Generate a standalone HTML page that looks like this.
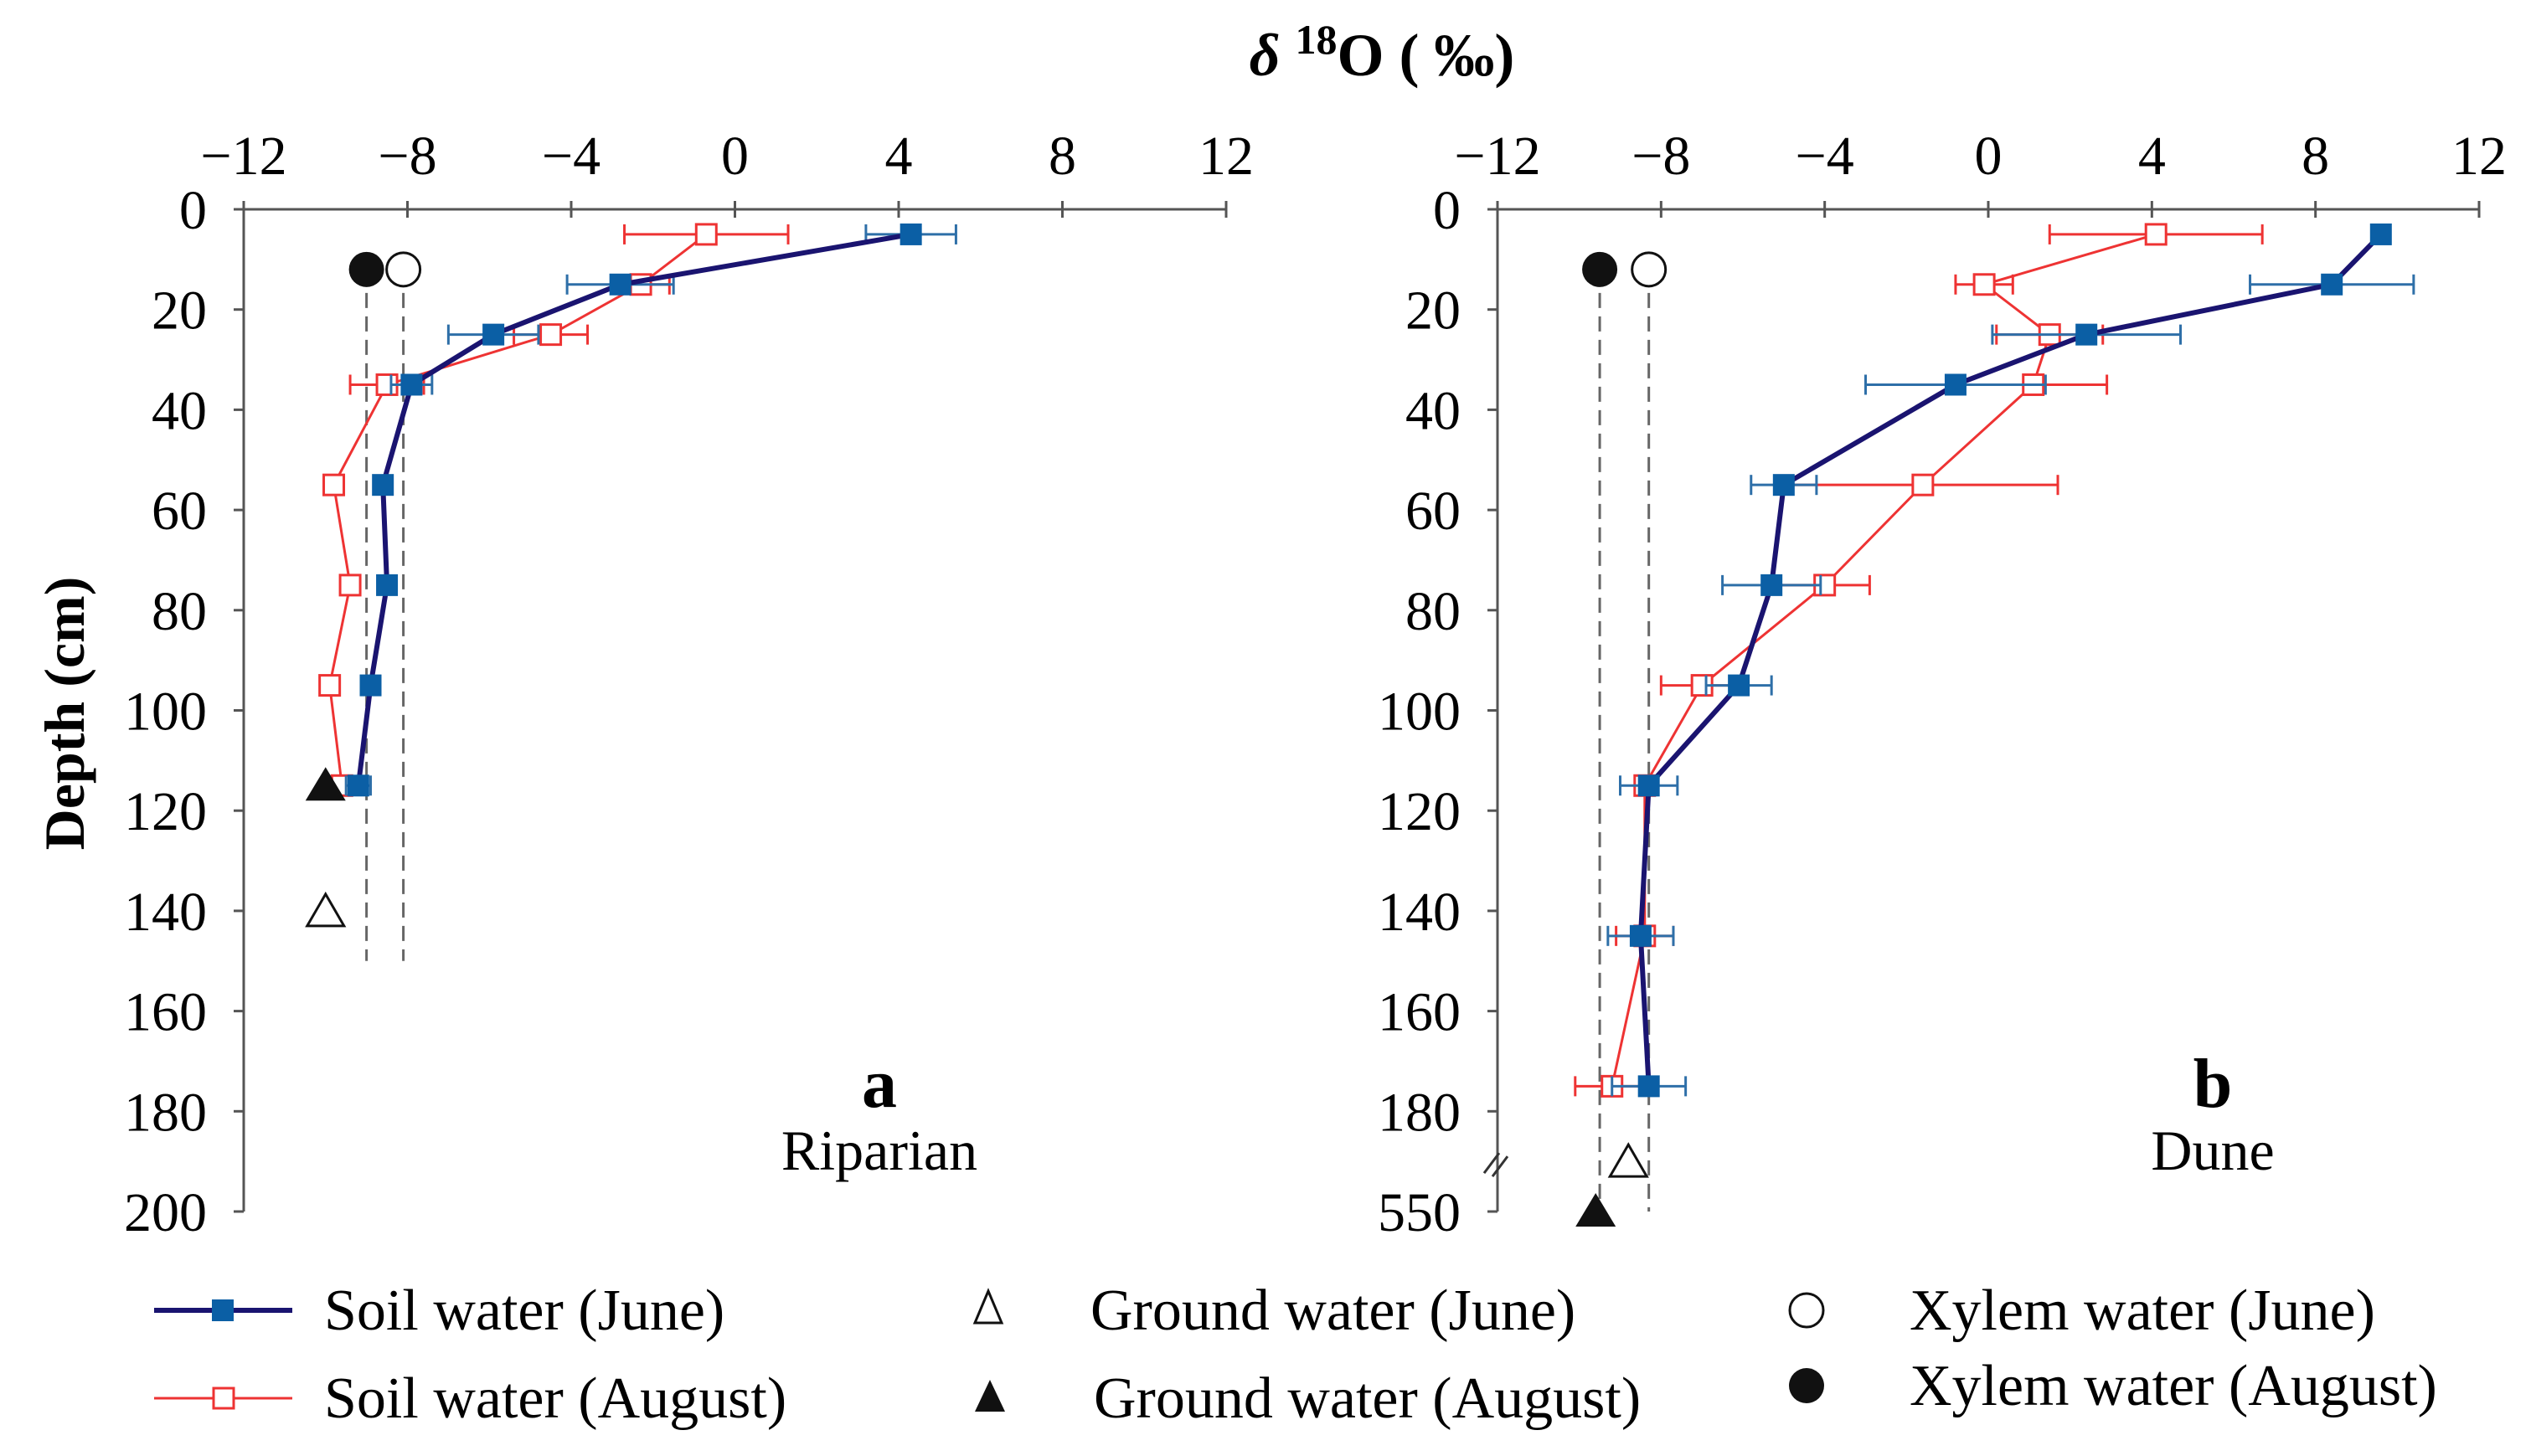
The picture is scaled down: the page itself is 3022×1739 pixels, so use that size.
<!DOCTYPE html>
<html><head><meta charset="utf-8"><style>
html,body{margin:0;padding:0;background:#fff;}
svg{display:block;}
text{font-family:"Liberation Serif",serif;}
</style></head><body>
<svg id="chart" width="3022" height="1739" viewBox="0 0 3022 1739" xmlns="http://www.w3.org/2000/svg">
<text x="1650" y="90" text-anchor="middle" font-size="72" font-weight="bold"><tspan font-style="italic">δ</tspan> <tspan font-size="50" dy="-26">18</tspan><tspan dy="26">O ( ‰)</tspan></text>
<text transform="translate(100,852) rotate(-90)" text-anchor="middle" font-size="68" font-weight="bold">Depth (cm)</text>
<g id="plots"></g>
<g id="legend">
  <line x1="184" y1="1565" x2="349" y2="1565" stroke="#1a1470" stroke-width="6"/>
  <rect x="253" y="1552" width="26" height="26" fill="#0b5fa5"/>
  <text x="387" y="1588" font-size="70">Soil water (June)</text>
  <line x1="184" y1="1670" x2="349" y2="1670" stroke="#ee3333" stroke-width="3"/>
  <rect x="255" y="1658" width="24" height="24" fill="#fff" stroke="#ee3333" stroke-width="3"/>
  <text x="387" y="1693" font-size="70">Soil water (August)</text>
  <polygon points="1180,1542 1164,1580 1196,1580" fill="#fff" stroke="#111" stroke-width="3"/>
  <text x="1302" y="1588" font-size="70">Ground water (June)</text>
  <polygon points="1182,1648 1164,1686 1200,1686" fill="#111"/>
  <text x="1306" y="1693" font-size="70">Ground water (August)</text>
  <circle cx="2157" cy="1565" r="20" fill="#fff" stroke="#111" stroke-width="3"/>
  <text x="2280" y="1588" font-size="70">Xylem water  (June)</text>
  <circle cx="2157" cy="1655" r="21" fill="#111"/>
  <text x="2280" y="1678" font-size="70">Xylem water (August)</text>
</g>
</svg>
<script>
const xTicks=[-12,-8,-4,0,4,8,12];
const yTicksA=[0,20,40,60,80,100,120,140,160,180,200];
const yTickLabelsA=["0","20","40","60","80","100","120","140","160","180","200"];
const yTicksB=[0,20,40,60,80,100,120,140,160,180,200];
const yTickLabelsB=["0","20","40","60","80","100","120","140","160","180","550"];
const depths=[5,15,25,35,55,75,95,115];
const aJune=[4.3,-2.8,-5.9,-7.9,-8.6,-8.5,-8.9,-9.2];
const aJuneErr=[1.1,1.3,1.1,0.5,0,0,0,0.3];
const aAug=[-0.7,-2.3,-4.5,-8.5,-9.8,-9.4,-9.9,-9.6];
const aAugErr=[2.0,0.7,0.9,0.9,0,0,0,0.4];
const depthsB=[5,15,25,35,55,75,95,115,145,175];
const bJune=[9.6,8.4,2.4,-0.8,-5.0,-5.3,-6.1,-8.3,-8.5,-8.3];
const bJuneErr=[0,2.0,2.3,2.2,0.8,1.2,0.8,0.7,0.8,0.9];
const bAug=[4.1,-0.1,1.5,1.1,-1.6,-4.0,-7.0,-8.4,-8.4,-9.2];
const bAugErr=[2.6,0.7,1.3,1.8,3.3,1.1,1.0,0,0.7,0.9];
const aXylem=[-8.1,-9.0]; // June, August
const aGround=[-10.0,-10.0]; const aGroundDepth=[140,115];
const bXylem=[-8.3,-9.5];
const bGround=[-8.8,-9.6]; const bGroundDepth=[190,200];

const NS="http://www.w3.org/2000/svg";
const root=document.getElementById('plots');
function mk(tag,attrs,parent){const e=document.createElementNS(NS,tag);for(const k in attrs)e.setAttribute(k,attrs[k]);(parent||root).appendChild(e);return e;}

function panel(id,x0,x1,yTicks,yLabels,dep,june,juneErr,aug,augErr,xyl,gr,grD,dashEndD,labelX,letter,site,breakMark){
  const g=mk('g',{});
  
  
  const top=250,bot=1447;
  const X=v=>x0+(v+12)/24*(x1-x0);
  const Y=d=>top+d/200*(bot-top);
  const ax='#555';
  const xa=mk('line',{x1:x0,y1:top,x2:x1,y2:top,stroke:ax,'stroke-width':3},g);
  
  
  const ya=mk('line',{x1:x0,y1:top,x2:x0,y2:bot,stroke:ax,'stroke-width':3},g);
  
  
  xTicks.forEach(t=>{
    mk('line',{x1:X(t),y1:top-10,x2:X(t),y2:top+10,stroke:ax,'stroke-width':3},g);
    const tx=mk('text',{x:X(t),y:top-42,'text-anchor':'middle','font-size':66},g);
    tx.textContent=(t<0?'−'+(-t):String(t));
    
    
  });
  yTicks.forEach((t,i)=>{
    mk('line',{x1:x0-12,y1:Y(t),x2:x0,y2:Y(t),stroke:ax,'stroke-width':3},g);
    const tx=mk('text',{x:x0-44,y:Y(t)+23,'text-anchor':'end','font-size':66},g);
    tx.textContent=yLabels[i];
    
    
  });
  if(breakMark){
    mk('line',{x1:x0-16,y1:Y(190)+14,x2:x0+2,y2:Y(190)-10,stroke:'#333','stroke-width':3},g);
    mk('line',{x1:x0-6,y1:Y(190)+18,x2:x0+12,y2:Y(190)-6,stroke:'#333','stroke-width':3},g);
  }
  xyl.forEach(v=>{const l=mk('line',{x1:X(v),y1:Y(12),x2:X(v),y2:Y(dashEndD),stroke:'#666','stroke-width':3,'stroke-dasharray':'18,10'},g);
    
    });
  function series(vals,errs,dd,color,lw,filled,name){
    const sg=mk('g',{},g);
    
    
    const ec=filled?'#2e6fa8':'#ee3333';
    vals.forEach((v,i)=>{if(errs[i]>0){
      mk('line',{x1:X(v-errs[i]),y1:Y(dd[i]),x2:X(v+errs[i]),y2:Y(dd[i]),stroke:ec,'stroke-width':3},sg);
      [v-errs[i],v+errs[i]].forEach(e=>mk('line',{x1:X(e),y1:Y(dd[i])-12,x2:X(e),y2:Y(dd[i])+12,stroke:ec,'stroke-width':3},sg));
    }});
    mk('polyline',{points:vals.map((v,i)=>X(v)+','+Y(dd[i])).join(' '),fill:'none',stroke:color,'stroke-width':lw},sg);
    vals.forEach((v,i)=>{
      const r=filled?mk('rect',{x:X(v)-13,y:Y(dd[i])-13,width:26,height:26,fill:'#0b5fa5'},sg):
        mk('rect',{x:X(v)-12,y:Y(dd[i])-12,width:24,height:24,fill:'#fff',stroke:'#ee3333','stroke-width':3},sg);
      
      
    });
  }
  series(aug,augErr,dep,'#ee3333',3,false,'soil-august-series');
  series(june,juneErr,dep,'#1a1470',6,true,'soil-june-series');
  const c1=mk('circle',{cx:X(xyl[0]),cy:Y(12),r:20,fill:'#fff',stroke:'#111','stroke-width':3},g);
  
  
  const c2=mk('circle',{cx:X(xyl[1]),cy:Y(12),r:21,fill:'#111'},g);
  
  
  const gx0=X(gr[0]),gy0=Y(grD[0]);
  const t1=mk('polygon',{points:`${gx0},${gy0-20} ${gx0-22},${gy0+18} ${gx0+22},${gy0+18}`,fill:'#fff',stroke:'#111','stroke-width':3},g);
  
  
  const gx1=X(gr[1]),gy1=Y(grD[1]);
  const t2=mk('polygon',{points:`${gx1},${gy1-22} ${gx1-24},${gy1+18} ${gx1+24},${gy1+18}`,fill:'#111'},g);
  
  
  const L=mk('text',{x:labelX,y:1322,'text-anchor':'middle','font-size':84,'font-weight':'bold','font-family':'Liberation Sans, sans-serif'},g);
  L.textContent=letter;
  
  
  const S=mk('text',{x:labelX,y:1397,'text-anchor':'middle','font-size':68},g);
  S.textContent=site;
  
  
}
panel('a',291,1464,yTicksA,yTickLabelsA,depths,aJune,aJuneErr,aAug,aAugErr,aXylem,aGround,aGroundDepth,150,1050,'a','Riparian',false);
panel('b',1788,2960,yTicksB,yTickLabelsB,depthsB,bJune,bJuneErr,bAug,bAugErr,bXylem,bGround,bGroundDepth,200,2642,'b','Dune',true);
</script>
</body></html>
